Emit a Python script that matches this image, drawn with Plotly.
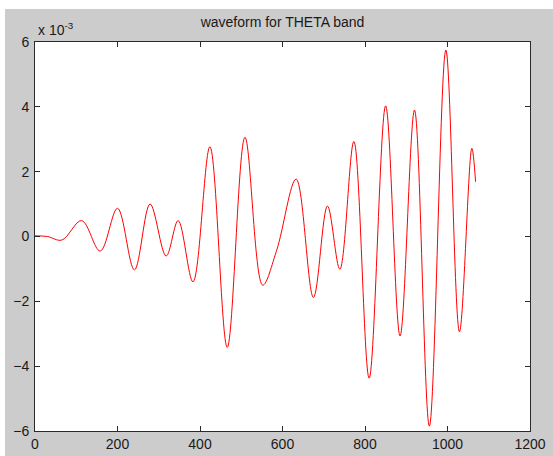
import plotly.graph_objects as go

# Sample index of each turning point of the THETA-band waveform
sample_idx = [0, 30, 65, 113, 158, 200, 241, 279, 318, 347, 383, 424, 466,
              509, 552, 586, 633, 675, 709, 739, 773, 810, 850, 885, 920,
              956, 996, 1029, 1059, 1068]
# Amplitude at those samples, in units of 1e-3
amp_e3 = [0.02, 0.0, -0.11, 0.49, -0.45, 0.87, -1.03, 1.0, -0.6, 0.49, -1.4,
          2.77, -3.42, 3.06, -1.5, -0.42, 1.77, -1.88, 0.94, -1.01, 2.93,
          -4.37, 4.03, -3.07, 3.9, -5.85, 5.75, -2.94, 2.72, 1.69]

x_ticks = [0, 200, 400, 600, 800, 1000, 1200]
y_ticks = [-6, -4, -2, 0, 2, 4, 6]

W, H = 553, 456
L, R, T, B = 35, 23, 42, 25
pw, ph = W - L - R, H - T - B

FONT = dict(family="Liberation Sans, Arial", size=14, color="#1a1a1a")

fig = go.Figure(go.Scatter(
    x=sample_idx, y=amp_e3, mode="lines",
    line=dict(color="#ff0000", width=1, shape="spline", smoothing=1.0),
    hoverinfo="skip",
))

axis_common = dict(
    showline=True, linecolor="#2a2a2a", linewidth=1, mirror="ticks",
    ticks="inside", ticklen=5, tickcolor="#2a2a2a", tickwidth=1,
    showgrid=False, zeroline=False, automargin=False,
    tickfont=FONT,
)

fig.update_xaxes(range=[0, 1200], tickvals=x_ticks, **axis_common)
fig.update_yaxes(range=[-6, 6], tickvals=y_ticks, ticklabelstandoff=2, **axis_common)

# white border strip around the grey figure area (top and left)
fig.add_shape(type="rect", xref="paper", yref="paper",
              x0=-L / pw - 0.1, x1=1.2, y0=(ph + T - 9) / ph, y1=1.3,
              fillcolor="white", line_width=0, layer="below")
fig.add_shape(type="rect", xref="paper", yref="paper",
              x0=-L / pw - 0.1, x1=(5 - L) / pw, y0=-0.3, y1=1.3,
              fillcolor="white", line_width=0, layer="below")

fig.add_annotation(text="x 10<sup>-3</sup>", xref="paper", yref="paper",
                   x=1 / pw, y=1, xanchor="left", yanchor="bottom", yshift=2,
                   showarrow=False, font=FONT)

fig.update_layout(
    width=W, height=H,
    margin=dict(l=L, r=R, t=T, b=B),
    paper_bgcolor="#cccccc", plot_bgcolor="white",
    showlegend=False,
    title=dict(text="waveform for THETA band", x=0.5, xref="paper",
               y=1 - 22 / H, yanchor="middle", font=FONT),
)

fig.write_html("out.html")
